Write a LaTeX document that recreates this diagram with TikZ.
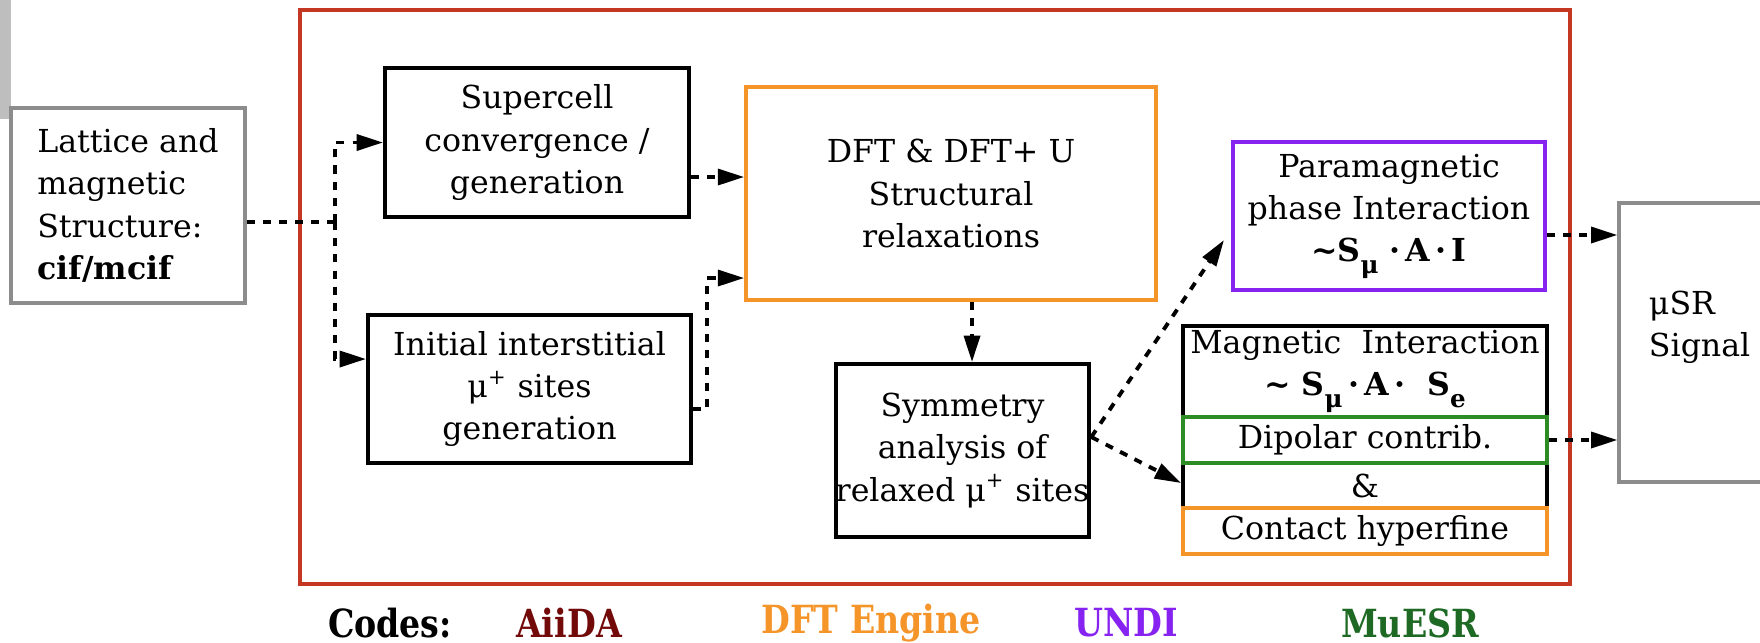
\documentclass[tikz,border=0pt]{standalone}
\usepackage{fontspec}
\setmainfont{DejaVu Serif}
\usetikzlibrary{arrows.meta}

\definecolor{framered}{RGB}{195,55,35}
\definecolor{dftorange}{RGB}{245,148,40}
\definecolor{undipurple}{RGB}{135,35,240}
\definecolor{boxgreen}{RGB}{45,140,35}
\definecolor{muesrgreen}{RGB}{30,105,35}
\definecolor{aiidared}{RGB}{115,10,10}
\definecolor{boxgray}{RGB}{140,140,140}
\definecolor{tabgray}{RGB}{190,190,190}

\newcommand{\lowidx}[1]{\raisebox{-0.7ex}{\scriptsize #1}}
\newcommand{\narrowtxt}[1]{\scalebox{0.9}[1.05]{#1}}

\begin{document}
\begin{tikzpicture}[x=0.1mm,y=-0.1mm,>={Triangle[length=7.5pt,width=4.5pt]}]
	\tikzstyle{box}=[draw=black,line width=1.1pt,inner sep=0pt,align=center,font=\fontsize{9}{12}\selectfont]
	\tikzstyle{gbox}=[box,draw=boxgray,line width=0.9pt]
	\tikzstyle{edge}=[draw=black,line width=1.1pt,dash pattern=on 2.3pt off 2.3pt]
	\tikzstyle{code}=[font=\fontsize{10.5}{12}\selectfont\bfseries,inner sep=0pt]

	\clip (0,0) rectangle (1760,642);
	\fill[tabgray] (0,0) rectangle (11,119);
	\draw[framered,line width=1pt] (300,10) rectangle (1570,584);

	% inputs and workflow steps
	\node [gbox,minimum width=23.4mm,minimum height=19.5mm,align=left] (lattice) at (128,205.5) {Lattice and\\magnetic\\Structure:\\\textbf{cif/mcif}};
	\node [box,minimum width=30.4mm,minimum height=14.9mm] (super) at (537,142.5) {Supercell\\convergence /\\generation};
	\node [box,minimum width=32.3mm,minimum height=14.8mm] (init) at (529.5,389) {Initial interstitial\\μ\textsuperscript{+} sites\\generation};
	\node [box,draw=dftorange,line width=1pt,minimum width=41mm,minimum height=21.3mm] (dft) at (951,193.5) {DFT \& DFT+ U\\Structural\\relaxations};
	\node [box,minimum width=24.9mm,minimum height=17.3mm] (sym) at (962.5,450.5) {Symmetry\\analysis of\\relaxed μ\textsuperscript{+} sites};
	\node [box,draw=undipurple,line width=1pt,minimum width=31.2mm,minimum height=14.8mm] (para) at (1389,216) {Paramagnetic\\phase Interaction\\\textbf{\textasciitilde S}\lowidx{\textbf{μ}}\textbf{\ ·\,A\,·\,I}};

	% magnetic interaction stack
	\node [box,minimum width=36.4mm,minimum height=9.1mm] (mag) at (1365,371.5) {Magnetic\ \ Interaction\\\textbf{\textasciitilde\ S}\lowidx{\textbf{μ}}\textbf{\,·\,A\,·\ \ S}\lowidx{\textbf{e}}};
	\node [box,minimum width=36.4mm,minimum height=4.5mm] (amp) at (1365,485.5) {\&};
	\node [box,draw=boxgreen,line width=1pt,minimum width=36.4mm,minimum height=4.6mm] (dip) at (1365,440) {Dipolar contrib.};
	\node [box,draw=dftorange,line width=1pt,minimum width=36.4mm,minimum height=4.6mm] (hyp) at (1365,531) {Contact hyperfine};

	\node [gbox,minimum width=18.1mm,minimum height=27.9mm] (usr) at (1709.5,342.5) {};
	\node [box,draw=none,align=left,anchor=west] (usrtext) at (1647,327) {μSR\\Signal};

	% connectors
	\coordinate (split) at (335,222);
	\coordinate (up) at (707,278);
	\coordinate (fork) at (sym.east |- 0,437);
	\coordinate (pin) at (1224,240);

	\path[edge] (lattice.east |- split) -- (split);
	\path[edge,->] (split) |- (super.west);
	\path[edge,->] (split) |- (init.west |- 0,359);
	\path[edge,->] (super.east |- 0,177) -- (dft.west |- 0,177);
	\path[edge,->] (init.east |- 0,409) -| (up) -- (dft.west |- up);
	\path[edge,->] (dft.south -| 972,0) -- (sym.north -| 972,0);
	\path[edge,->] (fork) -- (pin);
	\path[edge,->] (fork) -- (amp.west |- 0,483);
	\path[edge,->] (para.east |- 0,235) -- (usr.west |- 0,235);
	\path[edge,->] (dip.east) -- (usr.west |- dip.east);

	% codes legend
	\node [code] (codes) at (390,623) {\narrowtxt{Codes:}};
	\node [code,text=aiidared] (aiida) at (569,623) {\narrowtxt{AiiDA}};
	\node [code,text=dftorange] (engine) at (871,623) {\narrowtxt{DFT Engine}};
	\node [code,text=undipurple] (undi) at (1126,623) {\narrowtxt{UNDI}};
	\node [code,text=muesrgreen] (muesr) at (1410,623) {\narrowtxt{MuESR}};
\end{tikzpicture}
\end{document}
